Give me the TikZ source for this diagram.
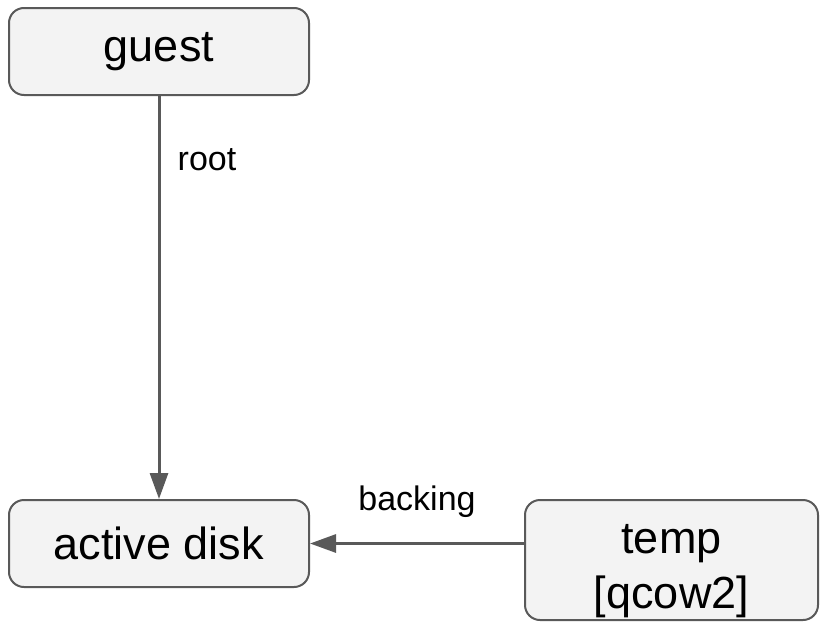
\documentclass[tikz,border=0pt]{standalone}
\usepackage{fontspec}
\setmainfont{Liberation Sans}
\usetikzlibrary{arrows.meta}
\definecolor{boxfill}{HTML}{F3F3F3}
\definecolor{edgegray}{HTML}{595959}
\tikzset{
  diskbox/.style={draw=edgegray, line width=2pt, fill=boxfill, rounded corners=15pt,
    inner sep=0pt, align=center, font=\fontsize{45}{55}\selectfont},
  link/.style={draw=edgegray, line width=3pt, -{Triangle[length=26pt, width=18pt]}},
  linklabel/.style={font=\fontsize{34}{40}\selectfont, inner sep=0pt}
}
\begin{document}
\begin{tikzpicture}[x=1pt, y=-1pt]
  \useasboundingbox (0,0) rectangle (821,624);
  \node[diskbox, minimum width=300pt, minimum height=87pt] (guest) at (159,51.5) {guest};
  \node[diskbox, minimum width=300pt, minimum height=87pt] (active) at (159,543.5) {active disk};
  % the strut lowers the two lines a little inside the taller box
  \node[diskbox, minimum width=293pt, minimum height=120pt] (temp) at (671.5,560)
    {\rule{0pt}{51pt}temp\\{[qcow2]}};
  \draw[link] (guest.south) -- (active.north);
  \draw[link] (active.east -| temp.west) -- (active.east);
  \node[linklabel] (rootlabel) at (207,160) {root};
  \node[linklabel] (backinglabel) at (417,502) {backing};
\end{tikzpicture}
\end{document}
